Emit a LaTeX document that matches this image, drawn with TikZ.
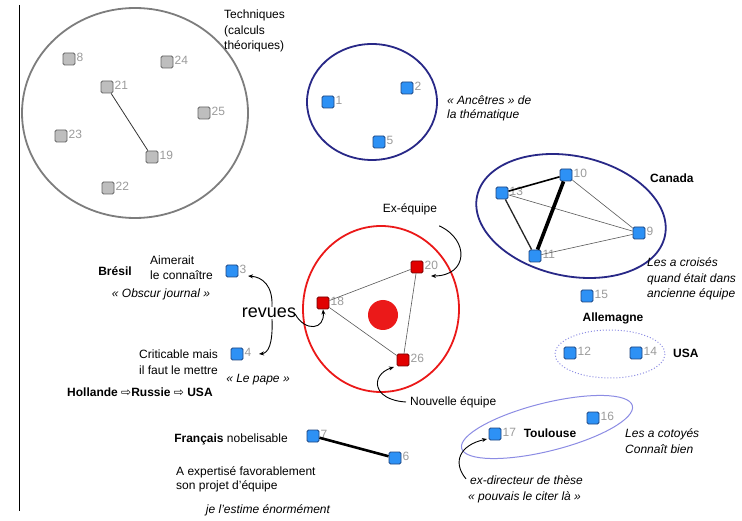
\documentclass[tikz,border=0pt]{standalone}
\usepackage{fontspec}
\setmainfont{Liberation Sans}
\newfontfamily\symfont{DejaVu Sans}
\usetikzlibrary{arrows.meta}

\definecolor{navyring}{RGB}{40,40,135}
\definecolor{lavring}{RGB}{140,140,228}
\definecolor{redring}{RGB}{235,25,25}
\definecolor{grayring}{RGB}{125,125,125}
\definecolor{bluefill}{RGB}{45,145,245}
\definecolor{blueedge}{RGB}{30,70,130}
\definecolor{grayfill}{RGB}{190,190,190}
\definecolor{grayedge}{RGB}{100,100,100}
\definecolor{redfill}{RGB}{225,0,0}
\definecolor{rededge}{RGB}{120,0,0}
\definecolor{numgray}{RGB}{155,155,155}

\tikzset{
  sq/.style={draw, rounded corners=1.5pt, minimum size=12pt, inner sep=0pt, line width=0.9pt},
  bsq/.style={sq, fill=bluefill, draw=blueedge},
  gsq/.style={sq, fill=grayfill, draw=grayedge},
  rsq/.style={sq, fill=redfill, draw=rededge},
  num/.style={text=numgray, font=\fontsize{12}{12}\selectfont, inner sep=1pt, yshift=1.5pt},
  txt/.style={font=\fontsize{12}{15.5}\selectfont, align=left, inner sep=0pt},
  itxt/.style={txt, font=\fontsize{12}{15.5}\selectfont\itshape},
  btxt/.style={txt, font=\fontsize{12}{15.5}\selectfont\bfseries},
  arr/.style={-{Stealth[length=5pt,width=4pt]}, line width=0.9pt, black},
  thinlink/.style={line width=0.6pt, gray!70!black},
}

\begin{document}
\begin{tikzpicture}[x=1pt, y=-1pt]
  \useasboundingbox[fill=white] (0,0) rectangle (742,521);

  % left rule
  \draw[line width=1.4pt] (19.5,5) -- (19.5,511);

  % group outlines
  \draw[grayring, line width=1.8pt] (135,113) ellipse [x radius=113, y radius=105];
  \draw[navyring, line width=1.8pt] (372,102) ellipse [x radius=65, y radius=58];
  \draw[navyring, line width=1.8pt, rotate around={-12:(571,216)}] (571,216) ellipse [x radius=96, y radius=60];
  \draw[redring, line width=1.8pt] (381,309) ellipse [x radius=78, y radius=83];
  \fill[redring] (383,315) circle [radius=15];
  \draw[lavring, line width=1pt, dotted] (610,354) ellipse [x radius=55, y radius=24];
  \draw[lavring, line width=1pt, rotate around={14:(547,427)}] (547,427) ellipse [x radius=88, y radius=24];

  % technical group
  \node[gsq, label={[num]east:8}]  (n8)  at (69,59)   {};
  \node[gsq, label={[num]east:24}] (n24) at (167,62)  {};
  \node[gsq, label={[num]east:21}] (n21) at (107,87)  {};
  \node[gsq, label={[num]east:25}] (n25) at (204,113) {};
  \node[gsq, label={[num]east:23}] (n23) at (61,136)  {};
  \node[gsq, label={[num]east:19}] (n19) at (152,157) {};
  \node[gsq, label={[num]east:22}] (n22) at (108,188) {};
  \draw[line width=0.8pt, gray!40!black] (n21) -- (n19);
  \node[txt, anchor=west] (tech) at (224,31) {Techniques\\(calculs\\théoriques)};

  % ancestors
  \node[bsq, label={[num]east:1}] (n1) at (328,102) {};
  \node[bsq, label={[num]east:2}] (n2) at (407,88)  {};
  \node[bsq, label={[num]east:5}] (n5) at (379,142) {};
  \node[itxt, font=\fontsize{12}{13.5}\selectfont\itshape, anchor=west] (anc) at (447,108.5) {« Ancêtres » de\\la thématique};

  % Canada
  \node[bsq, label={[num]east:10}] (n10) at (566,175) {};
  \node[bsq, label={[num]east:13}] (n13) at (502,193) {};
  \node[bsq, label={[num]east:9}]  (n9)  at (639,233) {};
  \node[bsq, label={[num]east:11}] (n11) at (535,256) {};
  \draw[thinlink] (n13) -- (n9);
  \draw[thinlink] (n10) -- (n9);
  \draw[thinlink] (n11) -- (n9);
  \draw[line width=1.6pt] (n13) -- (n10);
  \draw[line width=1.3pt, black!85] (n13) -- (n11);
  \draw[line width=3.6pt] (n10) -- (n11);
  \node[btxt, anchor=west] (canada) at (650,178) {Canada};
  \node[itxt, anchor=west] (croises) at (647,279) {Les a croisés\\quand était dans\\ancienne équipe};

  \node[bsq, label={[num]east:15}] (n15) at (587,296) {};
  \node[btxt] (allem) at (613,318) {Allemagne};

  % USA
  \node[bsq, label={[num]east:12}] (n12) at (570,353) {};
  \node[bsq, label={[num]east:14}] (n14) at (636,353) {};
  \node[btxt, anchor=west] (usa) at (673,353) {USA};

  % Toulouse
  \node[bsq, label={[num]east:16}] (n16) at (593,418) {};
  \node[bsq, label={[num]east:17}] (n17) at (495,434) {};
  \node[btxt] (toul) at (550,433) {Toulouse};
  \node[itxt, anchor=west] (cotoyes) at (625,441) {Les a cotoyés\\Connaît bien};
  \node[itxt, anchor=west] (exdir) at (468,489.5) {\hspace{2pt}ex-directeur de thèse\\« pouvais le citer là »};
  \draw[arr] (exdir.north west) ++(-2,3) .. controls (452,462) and (460,445) .. ([shift={(-8,5)}]n17.center);

  % team
  \node[rsq, label={[num]east:20}] (n20) at (417,267) {};
  \node[rsq, label={[num]east:18}] (n18) at (323,303) {};
  \node[rsq, label={[num]east:26}] (n26) at (403,360) {};
  \draw[thinlink] (n18) -- (n20);
  \draw[thinlink] (n20) -- (n26);
  \draw[thinlink] (n18) -- (n26);
  \node[txt] (exeq) at (410,209) {Ex-équipe};
  \coordinate (extip) at (431,276);
  \draw[arr] ([shift={(2,11)}]exeq.south east) .. controls (470,240) and (468,276) .. (extip);
  \node[txt, anchor=west] (nouv) at (410,402) {Nouvelle équipe};
  \draw[arr] ([xshift=-4pt]nouv.west) .. controls (372,400) and (370,375) .. ([shift={(-9,7)}]n26.center);

  % journals
  \node[bsq, label={[num]east:3}] (n3) at (232,271) {};
  \node[bsq, label={[num]east:4}] (n4) at (237,354) {};
  \node[btxt] (bresil) at (115,271) {Brésil};
  \node[txt, anchor=west, font=\fontsize{12}{15}\selectfont] (aimerait) at (150,267.5) {Aimerait\\le connaître};
  \node[itxt] (obscur) at (161,294) {« Obscur journal »};
  \node[txt, anchor=west, font=\fontsize{12}{16}\selectfont] (critic) at (139,362) {Criticable mais\\il faut le mettre};
  \node[itxt] (pape) at (258,380) {« Le pape »};
  \node[btxt, anchor=west] (route) at (67,392) {Hollande {\symfont\mdseries ⇨}Russie {\symfont\mdseries ⇨} USA};

  \node[font=\fontsize{18}{18}\selectfont, inner sep=1pt] (revues) at (269,313) {revues};
  \draw[arr] ([xshift=3pt]revues.north) .. controls (273,285) and (262,277) .. ([shift={(16,5)}]n3.center);
  \draw[arr] ([xshift=3pt]revues.south) .. controls (273,345) and (268,353) .. ([shift={(22,0)}]n4.center);
  \draw[arr] ([shift={(-2,-5)}]revues.south east) .. controls (305,332) and (325,330) .. (n18.south);

  % French contact
  \node[bsq, label={[num]east:7}] (n7) at (313,436) {};
  \node[bsq, label={[num]east:6}] (n6) at (395,458) {};
  \draw[line width=2.6pt] (n7) -- (n6);
  \node[txt] (fr) at (231,439) {\textbf{Français} nobelisable};
  \node[txt, anchor=west, font=\fontsize{12}{14}\selectfont] (expert) at (176,479) {A expertisé favorablement\\son projet d'équipe};
  \node[itxt] (estime) at (268,510) {je l'estime énormément};
\end{tikzpicture}
\end{document}
